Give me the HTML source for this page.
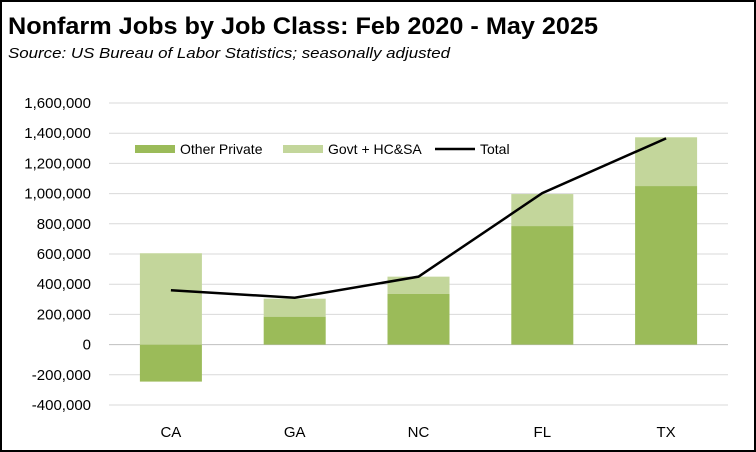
<!DOCTYPE html>
<html><head><meta charset="utf-8"><style>
body{margin:0;background:#fff}
svg{display:block;font-family:"Liberation Sans",Calibri,sans-serif}
</style></head><body>
<svg width="756" height="452" viewBox="0 0 756 452">
<rect x="1" y="1" width="754" height="450" fill="#fff" stroke="#000" stroke-width="2"/>
<text x="8" y="34" font-size="24" font-weight="bold" textLength="590" lengthAdjust="spacingAndGlyphs">Nonfarm Jobs by Job Class:  Feb 2020 - May 2025</text>
<text x="8" y="58" font-size="15" font-style="italic" textLength="442" lengthAdjust="spacingAndGlyphs">Source:  US Bureau of Labor Statistics; seasonally adjusted</text>
<g id="grid"></g><g id="bars"></g><g id="line"></g><g id="labels"></g>
<g>
<rect x="135" y="145" width="40" height="8" fill="#9bbb59"/>
<text x="180" y="154" font-size="14">Other Private</text>
<rect x="283" y="145" width="40" height="8" fill="#c3d69b"/>
<text x="328" y="154" font-size="14">Govt + HC&amp;SA</text>
<line x1="435" y1="149" x2="475" y2="149" stroke="#000" stroke-width="2.5"/>
<text x="480" y="154" font-size="14">Total</text>
</g>
</svg>
<script>
const categories=["CA","GA","NC","FL","TX"];
const otherPrivate=[-245000,185000,337000,785000,1050000];
const govt=[605000,119000,113000,212000,323000];
const total=[360000,310000,450000,1003000,1366000];
const yTicks=[-400000,-200000,0,200000,400000,600000,800000,1000000,1200000,1400000,1600000];
const NS="http://www.w3.org/2000/svg";
const x0=109,x1=728,yMin=-400000,yMax=1600000,pyTop=103,pyBot=405;
const y=v=>pyBot-(v-yMin)/(yMax-yMin)*(pyBot-pyTop);
const bw=(x1-x0)/categories.length;
const xc=i=>x0+bw*(i+0.5);
function mk(t,a,p){const e=document.createElementNS(NS,t);for(const k in a)e.setAttribute(k,a[k]);p.appendChild(e);return e;}
const grid=document.getElementById('grid'),bars=document.getElementById('bars'),lab=document.getElementById('labels'),ln=document.getElementById('line');
yTicks.forEach(v=>{
 const g=mk('line',{x1:x0,x2:x1,y1:y(v),y2:y(v),stroke:v===0?'#bfbfbf':'#d9d9d9','stroke-width':1},grid);
 
 
 const t=mk('text',{x:91,y:y(v)+5,'font-size':15,'text-anchor':'end'},lab);
 t.textContent=v.toLocaleString('en-US');
 
 
});
const w=62;
categories.forEach((c,i)=>{
 const o=otherPrivate[i],gv=govt[i];
 const r1=mk('rect',{x:xc(i)-w/2,y:Math.min(y(0),y(o)),width:w,height:Math.abs(y(o)-y(0)),fill:'#9bbb59'},bars);
 
 
 const base=Math.max(o,0);
 const r2=mk('rect',{x:xc(i)-w/2,y:y(base+gv),width:w,height:y(base)-y(base+gv),fill:'#c3d69b'},bars);
 
 
 const t=mk('text',{x:xc(i),y:437,'font-size':15,'text-anchor':'middle'},lab);
 t.textContent=c;
 
 
});
const p=mk('polyline',{points:total.map((v,i)=>xc(i)+','+y(v)).join(' '),fill:'none',stroke:'#000','stroke-width':2.5},ln);


</script>
</body></html>
